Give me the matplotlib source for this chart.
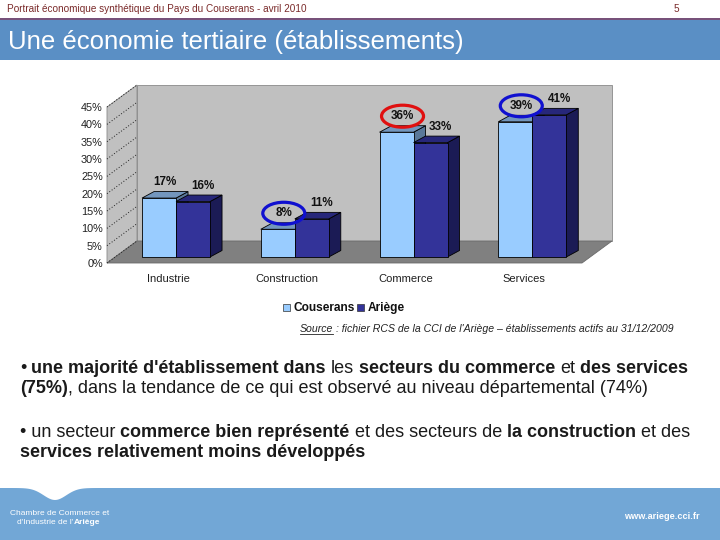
import matplotlib
matplotlib.use('Agg')
import matplotlib.pyplot as plt
from matplotlib.patches import Polygon, Rectangle, Ellipse
import numpy as np

plt.rcParams['font.family'] = ['Liberation Sans', 'DejaVu Sans']

# ---------------- data ----------------
categories = ['Industrie', 'Construction', 'Commerce', 'Services']
series_names = ['Couserans', 'Ariège']
couserans = [17, 8, 36, 39]
ariege = [16, 11, 33, 41]
y_ticks = [0, 5, 10, 15, 20, 25, 30, 35, 40, 45]
y_tick_labels = ['0%', '5%', '10%', '15%', '20%', '25%', '30%', '35%', '40%', '45%']
circled = [None, '#1010d0', '#e01010', '#1010d0']   # ellipse around Couserans label

header_text = 'Portrait économique synthétique du Pays du Couserans - avril 2010'
page_number = '5'
title_text = 'Une économie tertiaire (établissements)'
source_parts = [('Source', True), (' : fichier RCS de la CCI de l\'Ariège – établissements actifs au 31/12/2009', False)]
bullet_lines = [
    [('• ', 'normal'), ('une majorité d\'établissement dans', 'bold'), (' les ', 'normal'),
     ('secteurs du commerce', 'bold'), (' et ', 'normal'), ('des services', 'bold')],
    [('(75%)', 'bold'), (', dans la tendance de ce qui est observé au niveau départemental (74%)', 'normal')],
    [('• un secteur ', 'normal'), ('commerce bien représenté', 'bold'), (' et des secteurs de ', 'normal'),
     ('la construction', 'bold'), (' et des', 'normal')],
    [('services relativement moins développés', 'bold')],
]
footer_left = [('Chambre de Commerce et', 'normal')]
footer_left2 = [("d'Industrie de l'", 'normal'), ('Ariège', 'bold')]
footer_right = 'www.ariege.cci.fr'

# ---------------- figure ----------------
W, H = 720, 540
fig = plt.figure(figsize=(7.2, 5.4), dpi=100)
bg = fig.add_axes([0, 0, 1, 1])
bg.set_xlim(0, W)
bg.set_ylim(H, 0)
bg.axis('off')
renderer = fig.canvas.get_renderer()

TXT = '#1a1a1a'


def text_width(s, size, weight='normal', style='normal'):
    t = bg.text(0, 0, s, fontsize=size, fontweight=weight, fontstyle=style)
    w = t.get_window_extent(renderer).width
    t.remove()
    return w


def draw_segments(x, y, segs, size, color, style='normal', underline_flags=None):
    cur = x
    for i, (s, weight) in enumerate(segs):
        sp = text_width('x x', size, weight, style) - text_width('xx', size, weight, style)
        lead = len(s) - len(s.lstrip(' '))
        trail = len(s) - len(s.rstrip(' '))
        core = s.strip(' ')
        cur += lead * sp
        if core:
            t = bg.text(cur, y, core, fontsize=size, fontweight=weight, fontstyle=style,
                        color=color, va='baseline', ha='left')
            w = t.get_window_extent(renderer).width
            if underline_flags and underline_flags[i]:
                bg.plot([cur, cur + w], [y + 2, y + 2], color=color, lw=0.6)
            cur += w
        cur += trail * sp
    return cur


# header
bg.text(7, 12, header_text, fontsize=7.2, color='#7a2a2a', va='baseline')
bg.text(674, 12, page_number, fontsize=7.2, color='#7a2a2a', va='baseline')
bg.add_patch(Rectangle((0, 18), W, 42, facecolor='#5a8fc5', edgecolor='none'))
bg.plot([0, W], [18.6, 18.6], color='#7b4b72', lw=1.3)
bg.text(8, 49, title_text, fontsize=18.5, color='white', va='baseline')

# ---------------- chart ----------------
ax_l, ax_r, ax_t, ax_b = 107, 582, 107, 263
ax = fig.add_axes([ax_l / W, 1 - ax_b / H, (ax_r - ax_l) / W, (ax_b - ax_t) / H])
ax.patch.set_visible(False)
for s in ax.spines.values():
    s.set_visible(False)
xmin, xmax = -0.514, 3.486
ax.set_xlim(xmin, xmax)
ax.set_ylim(0, 45)
pxx = (ax_r - ax_l) / (xmax - xmin)
pxy = (ax_b - ax_t) / 45.0

# wall depth
wdx, wdy = 30 / pxx, 22 / pxy
wall_c = '#c0c0c0'
floor_c = '#808080'
ax.add_patch(Rectangle((xmin + wdx, wdy), xmax - xmin, 45, facecolor=wall_c,
                       edgecolor='#8a8a8a', lw=0.6, zorder=1, clip_on=False))
ax.add_patch(Polygon([(xmin, 0), (xmin, 45), (xmin + wdx, 45 + wdy), (xmin + wdx, wdy)],
                     closed=True, facecolor=wall_c, edgecolor='#8a8a8a', lw=0.6, zorder=1, clip_on=False))
ax.add_patch(Polygon([(xmin, 0), (xmax, 0), (xmax + wdx, wdy), (xmin + wdx, wdy)],
                     closed=True, facecolor=floor_c, edgecolor='#6a6a6a', lw=0.6, zorder=1, clip_on=False))
for t in y_ticks:
    ax.plot([xmin, xmin + wdx], [t, t + wdy], color='#202020', lw=0.7, ls=(0, (1, 2)),
            zorder=2, clip_on=False)

ax.set_yticks(y_ticks)
ax.set_yticklabels(y_tick_labels, fontsize=7.8, color='#202020')
ax.set_xticks(range(len(categories)))
ax.set_xticklabels(categories, fontsize=8, color='#202020')
ax.tick_params(axis='y', length=0, pad=3)
ax.tick_params(axis='x', length=0, pad=8)

# bars
bw = 34 / pxx
ox, oy = 8 / pxx, 6 / pxy          # placement of bars back on the floor
bdx, bdy = 12 / pxx, 6.5 / pxy     # bar depth
styles = [
    dict(front='#99ccff', top='#7396bd', side='#5a7899'),
    dict(front='#333399', top='#27277a', side='#1b1b55'),
]
series = [couserans, ariege]
label_dx = [6 / pxx, 10 / pxx]

for i in range(len(categories)):
    for k, vals in enumerate(series):
        v = vals[i]
        x0 = i - bw + k * bw + ox
        x1 = x0 + bw
        y0 = oy
        y1 = oy + v
        z = 5 + i * 4 + k * 2
        st = styles[k]
        ax.add_patch(Polygon([(x1, y0), (x1 + bdx, y0 + bdy), (x1 + bdx, y1 + bdy), (x1, y1)],
                             closed=True, facecolor=st['side'], edgecolor='black', lw=0.6,
                             zorder=z, clip_on=False))
        ax.add_patch(Rectangle((x0, y0), bw, v, facecolor=st['front'], edgecolor='black',
                               lw=0.6, zorder=z + 1, clip_on=False))
        ax.add_patch(Polygon([(x0, y1), (x1, y1), (x1 + bdx, y1 + bdy), (x0 + bdx, y1 + bdy)],
                             closed=True, facecolor=st['top'], edgecolor='black', lw=0.6,
                             zorder=z + 1, clip_on=False))
        lx = (x0 + x1) / 2 + label_dx[k]
        ly = y1 + bdy + 9.5 / pxy
        ax.text(lx, ly, f'{v}%', fontsize=8.4, fontweight='bold', color='#111111',
                ha='center', va='center', zorder=40, clip_on=False)
        if k == 0 and circled[i]:
            ax.add_patch(Ellipse((lx, ly), 42 / pxx, 22 / pxy, facecolor='none',
                                 edgecolor=circled[i], lw=2.3, zorder=41, clip_on=False))

# legend
leg_colors = [styles[0]['front'], styles[1]['front']]
lx = 283
for name, c in zip(series_names, leg_colors):
    bg.add_patch(Rectangle((lx, 303.5), 7, 7, facecolor=c, edgecolor='#333333', lw=0.5))
    t = bg.text(lx + 10, 311, name, fontsize=8.6, fontweight='bold', color='#111111', va='baseline')
    lx = lx + 10 + t.get_window_extent(renderer).width + 3

# source
draw_segments(300, 332, [(s, 'normal') for s, _ in source_parts], 7.55, '#222222',
              style='italic', underline_flags=[u for _, u in source_parts])

# bullets
for base, segs in zip([373, 393, 437, 457], bullet_lines):
    draw_segments(20, base, segs, 13, TXT)

# footer
bg.add_patch(Rectangle((0, 488), W, H - 488, facecolor='#72a7d6', edgecolor='none'))
xs = np.linspace(10, 100, 60)
ys = 488 + 12 * np.exp(-((xs - 55) / 16) ** 2)
bg.add_patch(Polygon(list(zip(xs, ys)) + [(100, 487), (10, 487)], closed=True,
                     facecolor='white', edgecolor='none'))
draw_segments(10, 515, footer_left, 6, 'white')
draw_segments(17, 524, footer_left2, 6, 'white')
bg.text(624, 519, footer_right, fontsize=6.6, fontweight='bold', color='white', va='baseline')

fig.savefig('out.png', dpi=100)
